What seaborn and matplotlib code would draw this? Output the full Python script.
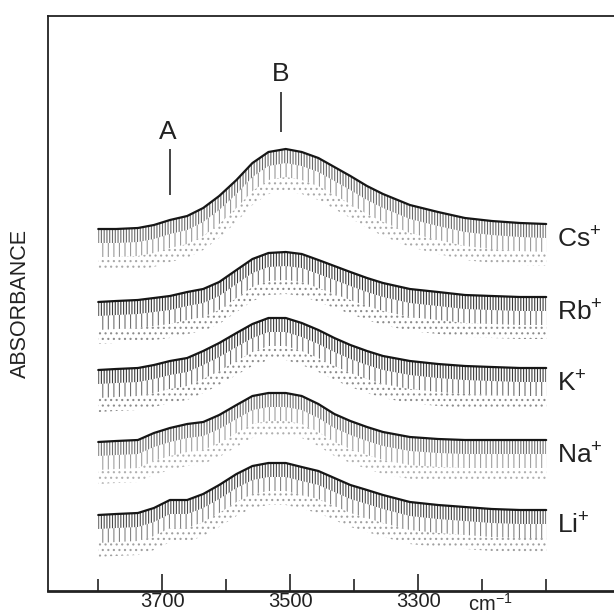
import numpy as np
import pandas as pd
import matplotlib
matplotlib.use("Agg")
import matplotlib.pyplot as plt
import seaborn as sns

# ---- data (offset absorbance, arbitrary units) ----
wavenumber = [3800, 3772, 3738, 3713, 3688, 3661, 3636, 3611, 3584, 3559, 3534, 3507,
              3482, 3456, 3431, 3406, 3380, 3355, 3313, 3269, 3227, 3185, 3141, 3100]
cs = [3.62, 3.62, 3.63, 3.66, 3.71, 3.75, 3.83, 3.95, 4.11, 4.28, 4.39, 4.42,
      4.39, 4.33, 4.24, 4.15, 4.05, 3.97, 3.86, 3.79, 3.73, 3.70, 3.68, 3.67]
rb = [2.89, 2.90, 2.91, 2.93, 2.95, 2.99, 3.02, 3.09, 3.21, 3.32, 3.38, 3.39,
      3.37, 3.31, 3.25, 3.19, 3.13, 3.08, 3.02, 2.99, 2.96, 2.95, 2.94, 2.94]
k = [2.21, 2.22, 2.23, 2.26, 2.30, 2.33, 2.40, 2.48, 2.58, 2.67, 2.73, 2.73,
     2.68, 2.61, 2.53, 2.46, 2.40, 2.35, 2.30, 2.27, 2.25, 2.24, 2.23, 2.23]
na = [1.49, 1.50, 1.51, 1.58, 1.63, 1.67, 1.69, 1.76, 1.86, 1.95, 1.98, 1.98,
      1.95, 1.87, 1.77, 1.70, 1.64, 1.59, 1.54, 1.52, 1.51, 1.51, 1.51, 1.51]
li = [0.76, 0.77, 0.78, 0.83, 0.91, 0.91, 0.97, 1.06, 1.17, 1.25, 1.28, 1.28,
      1.24, 1.20, 1.13, 1.06, 1.01, 0.96, 0.89, 0.86, 0.84, 0.82, 0.81, 0.81]
cations = ["Cs", "Rb", "K", "Na", "Li"]
series = [cs, rb, k, na, li]
band_labels = ["A", "B"]
band_positions = [3688, 3515]
tick_labels = [3700, 3500, 3300]
minor_ticks = [3800, 3600, 3400, 3200, 3100]

# ---- style ----
sns.set_theme(style="white")
plt.rcParams.update({
    "font.family": ["Liberation Sans", "DejaVu Sans"],
    "mathtext.fontset": "custom",
    "mathtext.rm": "Liberation Sans",
    "mathtext.it": "Liberation Sans",
    "hatch.linewidth": 0.8,
    "lines.solid_joinstyle": "round",
})

fig = plt.figure(figsize=(6.14, 6.16), dpi=100)
ax = fig.add_axes([47.7 / 614, 25 / 616, 1 - 47.7 / 614, 575 / 616])

rows = []
for name, vals in zip(cations, series):
    for w, v in zip(wavenumber, vals):
        rows.append({"wavenumber": w, "absorbance": v, "cation": name})
df = pd.DataFrame(rows)

textures = {
    "Cs": ("#6a6a6a", "#9a9a9a", "#a8a8a8"),
    "Rb": ("#3c3c3c", "#707070", "#8c8c8c"),
    "K": ("#3c3c3c", "#707070", "#8c8c8c"),
    "Na": ("#6e6e6e", "#a0a0a0", "#b0b0b0"),
    "Li": ("#4a4a4a", "#858585", "#a0a0a0"),
}

for name in cations:
    sub = df[df["cation"] == name]
    x = sub["wavenumber"].to_numpy()
    y = sub["absorbance"].to_numpy()
    c1, c2, c3 = textures[name]
    ax.fill_between(x, y - 0.14, y, facecolor="none", edgecolor=c1,
                    hatch="||||||", linewidth=0)
    ax.fill_between(x, y - 0.28, y - 0.14, facecolor="none", edgecolor=c2,
                    hatch="|||", linewidth=0)
    ax.fill_between(x, y - 0.42, y - 0.28, facecolor="none", edgecolor=c3,
                    hatch="...", linewidth=0)
    sns.lineplot(data=sub, x="wavenumber", y="absorbance", ax=ax,
                 color="#161616", linewidth=1.6, estimator=None, sort=False,
                 legend=False)
    ax.text(3083, y[-1] - 0.16, r"$\mathregular{" + name + "^{+}}$",
            fontsize=19, ha="left", va="center", color="#222222")

# band markers
ax.vlines(band_positions[0], 3.96, 4.42, color="#444444", linewidth=1.4)
ax.vlines(band_positions[1], 4.59, 4.99, color="#444444", linewidth=1.4)
ax.text(band_positions[0] + 3, 4.59, band_labels[0], fontsize=19, ha="center",
        va="center", color="#222222")
ax.text(band_positions[1], 5.17, band_labels[1], fontsize=19, ha="center",
        va="center", color="#222222")

ax.set_xlim(3879, 2994)
ax.set_ylim(0, 5.75)
ax.set_yticks([])
ax.set_xticks(tick_labels)
ax.set_xticklabels([str(t) for t in tick_labels])
ax.set_xticks(minor_ticks, minor=True)
ax.tick_params(axis="x", which="major", direction="in", length=12.5, width=1.2,
               pad=1, labelsize=14.5, bottom=True, colors="#222222")
ax.tick_params(axis="x", which="minor", direction="in", length=8.6, width=1.2,
               bottom=True, colors="#222222")
ax.set_xlabel("")
ax.set_ylabel("ABSORBANCE", fontsize=15.5, labelpad=12, color="#222222")

ax.annotate(r"$\mathregular{cm^{-1}}$", xy=(3188, 0), xycoords=("data", "axes fraction"),
            xytext=(0, -14), textcoords="offset points", ha="center", va="baseline",
            fontsize=14.5, color="#222222")

for side in ["top", "left", "bottom"]:
    ax.spines[side].set_visible(True)
    ax.spines[side].set_color("#222222")
ax.spines["top"].set_linewidth(1.3)
ax.spines["left"].set_linewidth(1.3)
ax.spines["bottom"].set_linewidth(2.0)
ax.spines["right"].set_visible(False)

fig.savefig("out.png", dpi=100)
